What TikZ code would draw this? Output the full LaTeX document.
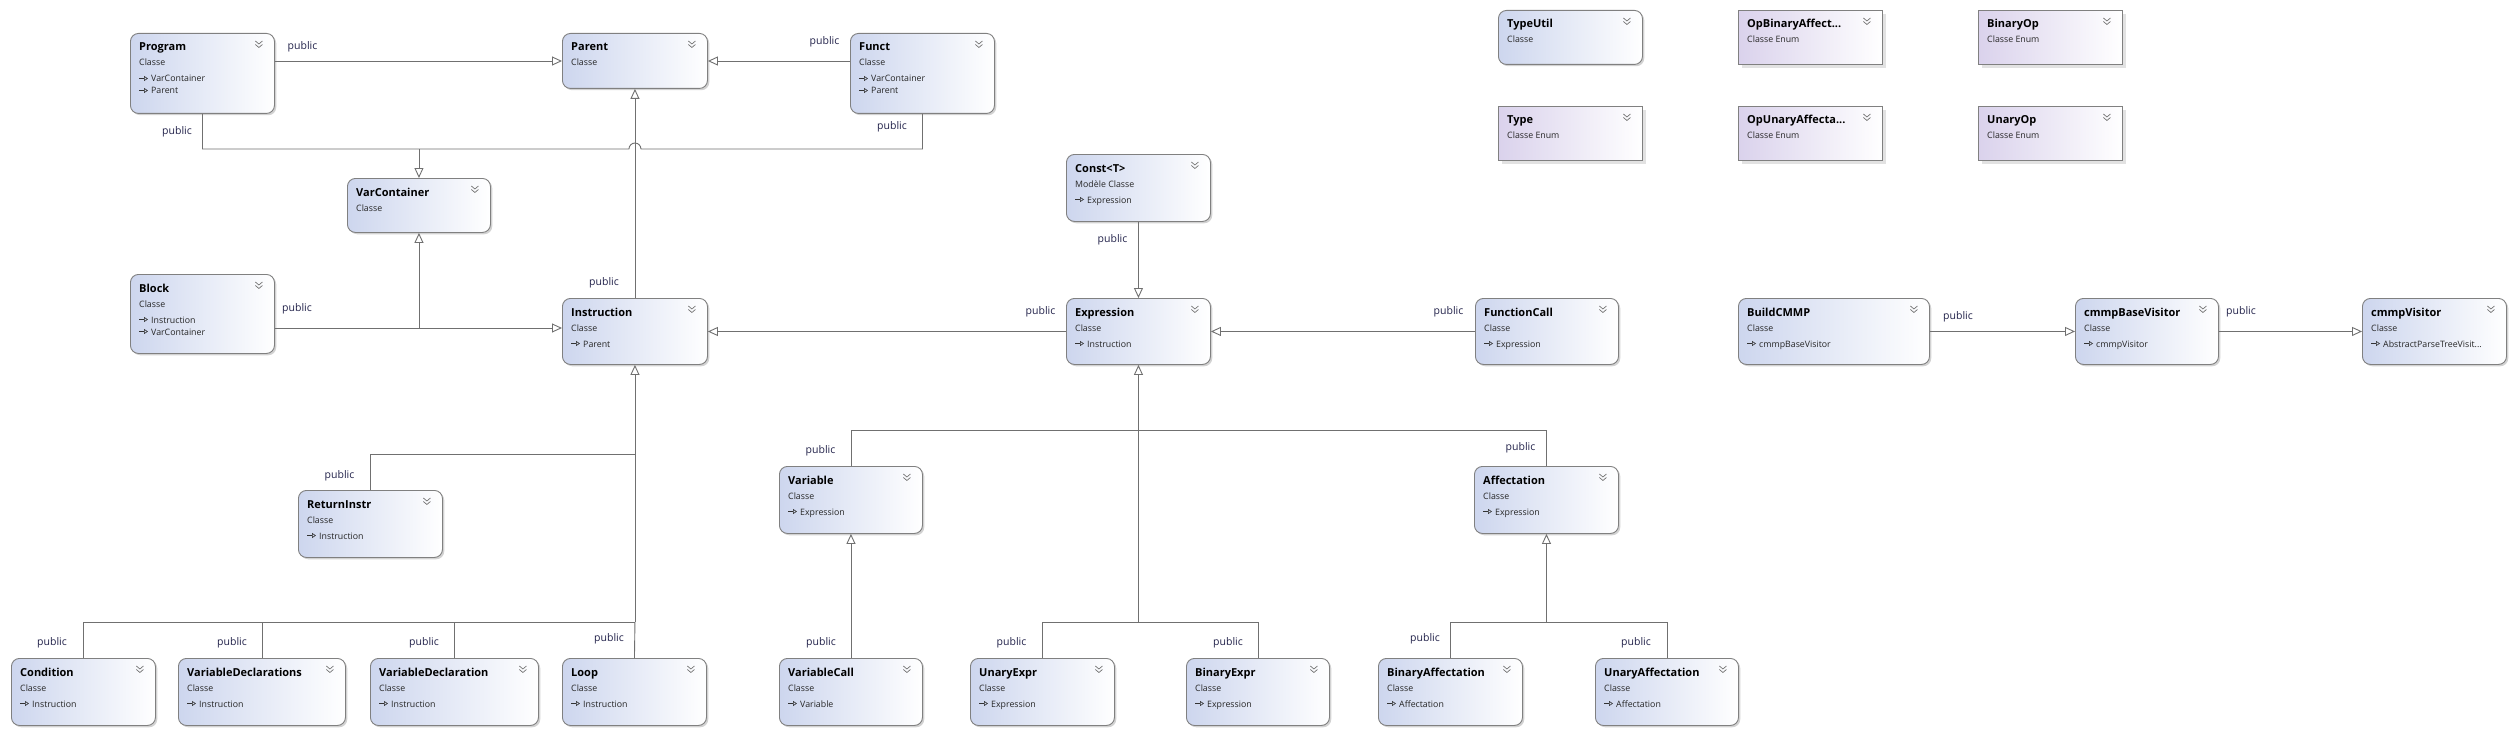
\documentclass[tikz,border=0pt]{standalone}
\usepackage{fontspec}
\setmainfont{Open Sans}
\usetikzlibrary{arrows.meta,shadows}

\definecolor{clsleft}{RGB}{205,214,238}
\definecolor{enumleft}{RGB}{218,210,236}
\definecolor{boxline}{RGB}{128,128,128}
\definecolor{connline}{RGB}{112,112,112}
\definecolor{lblcol}{RGB}{35,35,75}

\tikzset{
  clsbox/.style={draw=boxline, line width=0.9pt, rounded corners=8pt,
    left color=clsleft, right color=white, inner sep=0pt,
    drop shadow={shadow xshift=1.8pt, shadow yshift=-1.8pt, fill=black!35}},
  enumbox/.style={draw=boxline, line width=0.9pt,
    left color=enumleft, right color=white, inner sep=0pt,
    drop shadow={shadow xshift=3.5pt, shadow yshift=-3.5pt, fill=black!22}},
  ttl/.style={font=\fontsize{11}{12}\selectfont\bfseries, inner sep=0pt, text=black},
  subt/.style={font=\fontsize{8.8}{10}\selectfont, inner sep=0pt, text=black!85},
  lbl/.style={font=\fontsize{10.5}{12}\selectfont, inner sep=0pt, text=lblcol},
  chev/.style={draw=black!55, line width=0.7pt},
  icon/.style={draw=black!80, line width=0.6pt, -{Triangle[open,length=4pt,width=5pt]}},
  conn/.style={draw=connline, line width=0.9pt},
  inh/.style={conn, -{Triangle[open,length=10pt,width=9pt,fill=white]}},
}

\newcommand{\boxnode}[7]{%
  \node[#2, minimum width=#5pt, minimum height=#6pt, anchor=north west] (#1) at (#3,#4) {};
  \node[ttl, anchor=base west] (#1-t) at ([xshift=9pt, yshift=-18pt]#1.north west) {#7};
  \draw[chev] ([xshift=-19.5pt,yshift=-8pt]#1.north east) -- ++(3.5pt,-3pt) -- ++(3.5pt,3pt)
              ([xshift=-19.5pt,yshift=-11.5pt]#1.north east) -- ++(3.5pt,-3pt) -- ++(3.5pt,3pt);
}
\newcommand{\subline}[2]{%
  \node[subt, anchor=base west] (#1-s) at ([xshift=9pt, yshift=-33pt]#1.north west) {#2};
}
\newcommand{\memA}[2]{%
  \draw[icon] ([xshift=9pt, yshift=-45.5pt]#1.north west) -- ++(9pt,0pt);
  \node[subt, anchor=base west] (#1-m1) at ([xshift=21pt, yshift=-49pt]#1.north west) {#2};
}
\newcommand{\memB}[2]{%
  \draw[icon] ([xshift=9pt, yshift=-57.5pt]#1.north west) -- ++(9pt,0pt);
  \node[subt, anchor=base west] (#1-m2) at ([xshift=21pt, yshift=-61pt]#1.north west) {#2};
}

\begin{document}
\begin{tikzpicture}[x=1pt, y=-1pt]
\fill[white] (0,0) rectangle (2515,733);
\useasboundingbox (0,0) rectangle (2515,733);

% ---------- class boxes ----------
\boxnode{program}{clsbox}{130}{33}{144}{80}{Program}
\subline{program}{Classe}\memA{program}{VarContainer}\memB{program}{Parent}

\boxnode{parent}{clsbox}{562}{33}{145}{55}{Parent}
\subline{parent}{Classe}

\boxnode{funct}{clsbox}{850}{33}{144}{80}{Funct}
\subline{funct}{Classe}\memA{funct}{VarContainer}\memB{funct}{Parent}

\boxnode{varcontainer}{clsbox}{347}{178}{143}{54}{VarContainer}
\subline{varcontainer}{Classe}

\boxnode{block}{clsbox}{130}{274}{144}{79}{Block}
\subline{block}{Classe}\memA{block}{Instruction}\memB{block}{VarContainer}

\boxnode{instruction}{clsbox}{562}{298}{145}{66}{Instruction}
\subline{instruction}{Classe}\memA{instruction}{Parent}

\boxnode{returninstr}{clsbox}{298}{490}{144}{67}{ReturnInstr}
\subline{returninstr}{Classe}\memA{returninstr}{Instruction}

\boxnode{consta}{clsbox}{1066}{154}{144}{67}{Const<T>}
\subline{consta}{Modèle Classe}\memA{consta}{Expression}

\boxnode{expression}{clsbox}{1066}{298}{144}{66}{Expression}
\subline{expression}{Classe}\memA{expression}{Instruction}

\boxnode{functioncall}{clsbox}{1475}{298}{143}{66}{FunctionCall}
\subline{functioncall}{Classe}\memA{functioncall}{Expression}

\boxnode{variable}{clsbox}{779}{466}{143}{67}{Variable}
\subline{variable}{Classe}\memA{variable}{Expression}

\boxnode{affectation}{clsbox}{1474}{466}{144}{67}{Affectation}
\subline{affectation}{Classe}\memA{affectation}{Expression}

\boxnode{condition}{clsbox}{11}{658}{144}{67}{Condition}
\subline{condition}{Classe}\memA{condition}{Instruction}

\boxnode{vardecls}{clsbox}{178}{658}{167}{67}{VariableDeclarations}
\subline{vardecls}{Classe}\memA{vardecls}{Instruction}

\boxnode{vardecl}{clsbox}{370}{658}{168}{67}{VariableDeclaration}
\subline{vardecl}{Classe}\memA{vardecl}{Instruction}

\boxnode{loop}{clsbox}{562}{658}{144}{67}{Loop}
\subline{loop}{Classe}\memA{loop}{Instruction}

\boxnode{variablecall}{clsbox}{779}{658}{143}{67}{VariableCall}
\subline{variablecall}{Classe}\memA{variablecall}{Variable}

\boxnode{unaryexpr}{clsbox}{970}{658}{144}{67}{UnaryExpr}
\subline{unaryexpr}{Classe}\memA{unaryexpr}{Expression}

\boxnode{binaryexpr}{clsbox}{1186}{658}{143}{67}{BinaryExpr}
\subline{binaryexpr}{Classe}\memA{binaryexpr}{Expression}

\boxnode{binaryaffectation}{clsbox}{1378}{658}{144}{67}{BinaryAffectation}
\subline{binaryaffectation}{Classe}\memA{binaryaffectation}{Affectation}

\boxnode{unaryaffectation}{clsbox}{1595}{658}{143}{67}{UnaryAffectation}
\subline{unaryaffectation}{Classe}\memA{unaryaffectation}{Affectation}

\boxnode{buildcmmp}{clsbox}{1738}{298}{191}{66}{BuildCMMP}
\subline{buildcmmp}{Classe}\memA{buildcmmp}{cmmpBaseVisitor}

\boxnode{cmmpbasevisitor}{clsbox}{2075}{298}{143}{66}{cmmpBaseVisitor}
\subline{cmmpbasevisitor}{Classe}\memA{cmmpbasevisitor}{cmmpVisitor}

\boxnode{cmmpvisitor}{clsbox}{2362}{298}{144}{66}{cmmpVisitor}
\subline{cmmpvisitor}{Classe}\memA{cmmpvisitor}{AbstractParseTreeVisit...}

\boxnode{typeutil}{clsbox}{1498}{10}{144}{54}{TypeUtil}
\subline{typeutil}{Classe}

% ---------- enum boxes ----------
\boxnode{opbinary}{enumbox}{1738}{10}{144}{54}{OpBinaryAffect...}
\subline{opbinary}{Classe Enum}
\boxnode{binaryop}{enumbox}{1978}{10}{144}{54}{BinaryOp}
\subline{binaryop}{Classe Enum}
\boxnode{type}{enumbox}{1498}{106}{144}{54}{Type}
\subline{type}{Classe Enum}
\boxnode{opunary}{enumbox}{1738}{106}{144}{54}{OpUnaryAffecta...}
\subline{opunary}{Classe Enum}
\boxnode{unaryop}{enumbox}{1978}{106}{144}{54}{UnaryOp}
\subline{unaryop}{Classe Enum}

% ---------- connectors ----------
% Program / Funct -> Parent
\draw[inh] (program.east |- 0,61) -- (parent.west |- 0,61);
\draw[inh] (funct.west |- 0,61) -- (parent.east |- 0,61);
% Program / Funct -> VarContainer (with line hop)
\coordinate (jv) at (varcontainer.north |- 0,149);
\coordinate (hop) at (instruction.north |- jv);
\draw[conn] (program.south) -- (program.south |- jv) -- ([xshift=-6pt]hop)
   arc[start angle=180, end angle=0, radius=6pt] -- (funct.south |- jv) -- (funct.south);
\draw[inh] (jv) -- (varcontainer.north);
% Instruction -> Parent
\draw[inh] (instruction.north) -- (parent.south);
% Block -> Instruction, Block -> VarContainer
\coordinate (jb) at (varcontainer.south |- 0,328);
\draw[inh] (block.east |- jb) -- (instruction.west |- jb);
\draw[inh] (jb) -- (varcontainer.south);
% Expression -> Instruction
\draw[inh] (expression.west |- 0,331.5) -- (instruction.east |- 0,331.5);
% Const -> Expression, FunctionCall -> Expression
\draw[inh] (consta.south) -- (expression.north);
\draw[inh] (functioncall.west) -- (expression.east);
% Instruction subclasses
\coordinate (ib) at (instruction.south |- 0,622);
\draw[inh] (ib) -- (instruction.south);
\draw[conn] (condition.north) |- (ib);
\draw[conn] (vardecls.north) -- (vardecls.north |- ib);
\draw[conn] (vardecl.north) -- (vardecl.north |- ib);
\draw[conn] (loop.north) -- (ib);
\draw[conn] (returninstr.north) |- (instruction.south |- 0,454);
% Expression subclasses
\coordinate (eb) at (expression.south |- 0,622);
\draw[inh] (eb) -- (expression.south);
\draw[conn] (unaryexpr.north) |- (binaryexpr.north |- eb) -- (binaryexpr.north);
\draw[conn] (variable.north) |- (affectation.north |- 0,430) -- (affectation.north);
% Variable / Affectation subclasses
\draw[inh] (variablecall.north) -- (variable.south);
\coordinate (ab) at (affectation.south |- 0,622);
\draw[inh] (ab) -- (affectation.south);
\draw[conn] (binaryaffectation.north) |- (unaryaffectation.north |- ab) -- (unaryaffectation.north);
% Visitors
\draw[inh] (buildcmmp.east) -- (cmmpbasevisitor.west);
\draw[inh] (cmmpbasevisitor.east) -- (cmmpvisitor.west);

% ---------- labels ----------
\node[lbl] (p1) at (302.5,47) {public};
\node[lbl] (p2) at (824.5,42) {public};
\node[lbl] (p3) at (177,132) {public};
\node[lbl] (p4) at (892,127) {public};
\node[lbl] (p5) at (297,309) {public};
\node[lbl] (p6) at (604,283) {public};
\node[lbl] (p7) at (339.5,476) {public};
\node[lbl] (p8) at (1112.5,240) {public};
\node[lbl] (p9) at (1040.5,312) {public};
\node[lbl] (p10) at (1448.5,312) {public};
\node[lbl] (p11) at (1958,317) {public};
\node[lbl] (p12) at (2241,312) {public};
\node[lbl] (p13) at (820.5,451) {public};
\node[lbl] (p14) at (1520.5,448) {public};
\node[lbl] (p15) at (52,643) {public};
\node[lbl] (p16) at (232,643) {public};
\node[lbl] (p17) at (424,643) {public};
\node[lbl] (p18) at (609,639) {public};
\node[lbl] (p19) at (821,643) {public};
\node[lbl] (p20) at (1011.5,643) {public};
\node[lbl] (p21) at (1228,643) {public};
\node[lbl] (p22) at (1425,639) {public};
\node[lbl] (p23) at (1636,643) {public};
\end{tikzpicture}
\end{document}
